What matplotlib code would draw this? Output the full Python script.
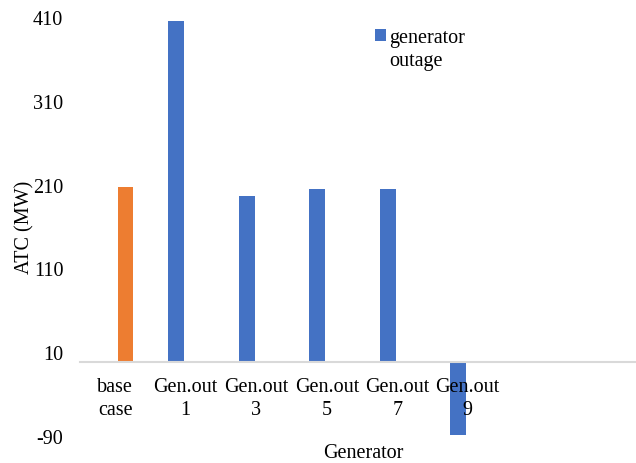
import matplotlib.pyplot as plt
import numpy as np

categories = ['base\ncase', 'Gen.out\n1', 'Gen.out\n3', 'Gen.out\n5', 'Gen.out\n7', 'Gen.out\n9']
base_case = [208, np.nan, np.nan, np.nan, np.nan, np.nan]
gen_outage = [np.nan, 406, 198, 205.5, 205.5, -88]
yticks = [-90, 10, 110, 210, 310, 410]

plt.rcParams['font.family'] = ['Liberation Serif', 'DejaVu Serif']
fs = 14.5

W, H = 636, 463
fig = plt.figure(figsize=(W / 100, H / 100), dpi=100)
ax = fig.add_axes([80 / W, 1 - 437 / H, 1 - 80 / W, (437 - 18) / H])

# axis line crosses at 0, set before tick labels (set_position resets them)
for s in ['top', 'right', 'left']:
    ax.spines[s].set_visible(False)
ax.spines['bottom'].set_position(('data', 0))
ax.spines['bottom'].set_color('#d9d9d9')
ax.spines['bottom'].set_linewidth(1.5)

x = np.arange(len(categories))
bw = 0.225
ax.bar(x - 0.135, gen_outage, bw, color='#4472C4', label='generator\noutage')
ax.bar(x + 0.145, base_case, bw, color='#ED7D31')

ax.set_xlim(-0.5, (W - 80) / 70.5 - 0.5)
ax.set_ylim(-90, 410)
ax.set_yticks(yticks)
ax.set_yticklabels([str(t) for t in yticks], fontsize=fs)
ax.set_xticks(x)
ax.set_xticklabels(categories, fontsize=fs, linespacing=1.3)

ax.tick_params(axis='both', length=0)
ax.tick_params(axis='y', pad=12)
ax.tick_params(axis='x', pad=12)

fig.text(25 / W, 1 - 227 / H, 'ATC (MW)', rotation=90, ha='center', va='center', fontsize=fs)
fig.text(363 / W, 1 - 453 / H, 'Generator', ha='center', va='center', fontsize=fs)

leg = fig.legend(loc='upper left', bbox_to_anchor=(375 / W, 1 - 29 / H), frameon=False,
                 fontsize=fs, handlelength=0.55, handleheight=0.55, handletextpad=0.17,
                 borderaxespad=0, borderpad=0)
for t in leg.get_texts():
    t.set_linespacing(1.3)
# square next to the first line, like the original
for col in leg._legend_handle_box.get_children():
    for row in col.get_children():
        row.align = 'top'

fig.savefig('out.png', dpi=100)
